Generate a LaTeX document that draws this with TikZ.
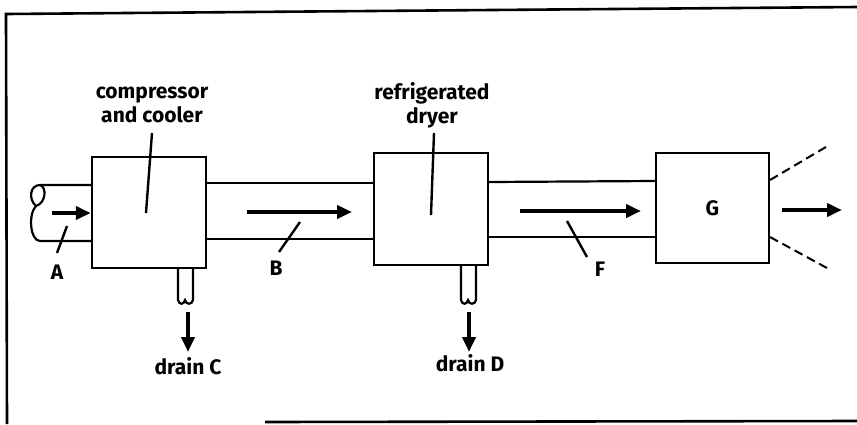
\documentclass[tikz,border=0pt]{standalone}
\usepackage{fontspec}
\setmainfont{Fira Sans}
\usetikzlibrary{arrows.meta}
\begin{document}
\begin{tikzpicture}[x=1pt,y=-1pt,
  unit/.style={draw,line width=2.4pt,minimum width=#1,inner sep=0pt},
  pipe/.style={line width=2.2pt},
  flow/.style={line width=4pt,-{Triangle[length=15pt,width=13pt]}},
  leader/.style={line width=2.4pt},
  lbl/.style={font=\fontsize{21}{24}\selectfont\bfseries,inner sep=0pt,align=center},
  cut/.style={line width=2pt,dash pattern=on 9pt off 5pt}]
\useasboundingbox (0,0) rectangle (857,424);
% frame
\draw[line width=2.6pt] (7,424) -- (6,14) -- (857,7);
\draw[line width=2.6pt] (265,422) -- (857,421);
% units
\node[unit=114pt,minimum height=111pt] (c1) at (149,212.5) {};
\node[unit=114pt,minimum height=112pt] (c2) at (431,209) {};
\node[unit=113pt,minimum height=110pt] (g) at (712.5,208) {};
\node[lbl] at (g.center) {G};
% inlet pipe with broken end
\draw[pipe] (c1.west|-0,185) -- (40,185)
  .. controls (30,185) and (28,199) .. (36,206)
  .. controls (28,214) and (30,241) .. (40,241) -- (c1.west|-0,241);
\draw[pipe] (40,185) .. controls (47,187) and (46,203) .. (36,206);
% pipe B
\draw[pipe] (c1.east|-0,183) -- (c2.west|-0,183);
\draw[pipe] (c1.east|-0,239) -- (c2.west|-0,239);
% pipe F
\draw[pipe] (c2.east|-0,182) -- (g.west|-0,181);
\draw[pipe] (c2.east|-0,237) -- (g.west|-0,237);
% drains
\draw[pipe] (c1.south-|178,0) -- (178,300) .. controls (179,305) and (184,305) .. (185,300)
  .. controls (186,305) and (192,305) .. (193,300) -- (c1.south-|193,0);
\draw[pipe] (c2.south-|461,0) -- (461,300) .. controls (462,305) and (467,305) .. (468,300)
  .. controls (469,305) and (475,305) .. (476,300) -- (c2.south-|476,0);
% flow arrows
\coordinate (a0) at (52,213);
\draw[flow] (a0) -- (c1.west|-0,213);
\draw[flow] (247,212) -- (352,212);
\draw[flow] (520,211) -- (641,211);
\draw[flow] (782,210) -- (842,210);
\draw[flow] (188,312) -- (188,352);
\draw[flow] (469,312) -- (469,352);
% exit spray
\draw[cut] (770,180) -- (826,147);
\draw[cut] (770,237) -- (827,268);
% labels
\node[lbl] (t1) at (152,105) {compressor\\and cooler};
\node[lbl] (t2) at (432,105) {refrigerated\\dryer};
\draw[leader] (146,213) -- (152,133);
\draw[leader] (431,215) -- (434,133);
\node[lbl] (A) at (57,272) {A};
\draw[leader] (67,226) -- (57,253);
\node[lbl] (B) at (276,268) {B};
\draw[leader] (300,222) -- (279,252);
\node[lbl] (F) at (600,269) {F};
\draw[leader] (567,221) -- (587,257);
\node[lbl] (dc) at (188,366) {drain C};
\node[lbl] (dd) at (470,363) {drain D};
\end{tikzpicture}
\end{document}
